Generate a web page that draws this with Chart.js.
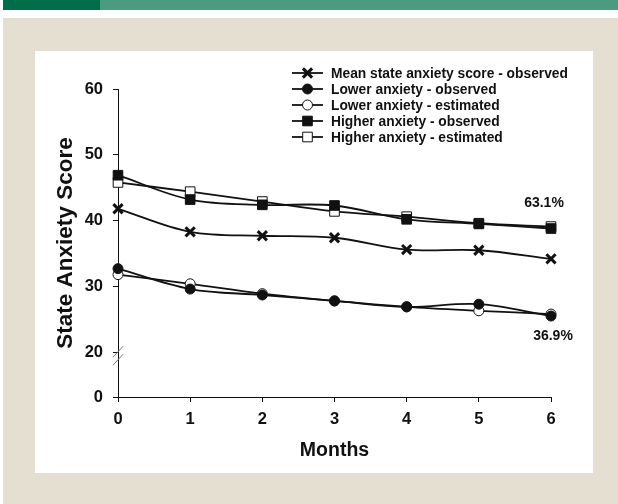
<!DOCTYPE html>
<html>
<head>
<meta charset="utf-8">
<title>State anxiety score over months</title>
<script src="https://cdn.jsdelivr.net/npm/chart.js@4.4.1/dist/chart.umd.min.js"></script>
<style>
  html, body { margin: 0; padding: 0; background: #fff; }
  body { width: 618px; height: 504px; position: relative; overflow: hidden; font-family: "Liberation Sans", Arial, sans-serif; }
  .bar-dark { position: absolute; left: 3px; top: 0; width: 97px; height: 10px; background: #006e48; }
  .bar-light { position: absolute; left: 100px; top: 0; width: 518px; height: 10px; background: #4b9b80; }
  .frame { position: absolute; left: 3px; top: 18px; width: 615px; height: 486px; background: #e5dfd2; }
  .panel { position: absolute; left: 35px; top: 51px; width: 558px; height: 422px; background: #fff; }
</style>
</head>
<body>
<div class="bar-dark"></div>
<div class="bar-light"></div>
<div class="frame"></div>
<div class="panel"><canvas id="anxietyChart" width="558" height="422"></canvas></div>

<script>
// ── Data ──
const months = ['0', '1', '2', '3', '4', '5', '6'];
const seriesNames = [
    'Mean state anxiety score - observed',
    'Lower anxiety - observed',
    'Lower anxiety - estimated',
    'Higher anxiety - observed',
    'Higher anxiety - estimated'
];
const meanObserved    = [41.8, 38.3, 37.7, 37.4, 35.6, 35.5, 34.2];
const lowerObserved   = [32.7, 29.6, 28.7, 27.8, 26.9, 27.3, 25.5];
const lowerEstimated  = [31.8, 30.4, 28.9, 27.8, 26.9, 26.3, 25.8];
const higherObserved  = [46.9, 43.2, 42.4, 42.3, 40.2, 39.5, 38.8];
const higherEstimated = [45.8, 44.4, 42.9, 41.4, 40.6, 39.6, 39.1];

// broken axis: the lowest tick stands for 0
const yTickValues = [13.2, 20, 30, 40, 50, 60];
const yTickLabels = ['0', '20', '30', '40', '50', '60'];
const endLabels = ['63.1%', '36.9%'];

const FONT = "'Liberation Sans', Arial, sans-serif";
const INK = '#111';

function series(label, data, style, radius, fill, extra) {
    return Object.assign({
        label,
        data,
        borderColor: INK,
        borderWidth: 1.8,
        tension: 0.35,
        pointStyle: style,
        pointRadius: radius,
        pointHoverRadius: radius,
        pointBackgroundColor: fill,
        pointBorderColor: INK,
        pointBorderWidth: 1,
        clip: false
    }, extra || {});
}

// ── Legend drawn as line + marker, top right ──
const legendPlugin = {
    id: 'lineLegend',
    afterDraw(chart) {
        const ctx = chart.ctx;
        ctx.save();
        chart.data.datasets.forEach((ds, i) => {
            const y = 22 + i * 16;
            ctx.strokeStyle = INK;
            ctx.lineWidth = 1.8;
            ctx.beginPath();
            ctx.moveTo(257, y);
            ctx.lineTo(288, y);
            ctx.stroke();
            ctx.fillStyle = ds.pointBackgroundColor;
            ctx.lineWidth = ds.pointBorderWidth;
            Chart.helpers.drawPoint(ctx, {
                pointStyle: ds.pointStyle, radius: ds.pointRadius,
                borderWidth: ds.pointBorderWidth, rotation: 0
            }, 272.5, y);
            ctx.fillStyle = INK;
            ctx.font = 'bold 13.8px ' + FONT;
            ctx.textAlign = 'left';
            ctx.textBaseline = 'middle';
            ctx.fillText(ds.label, 296, y + 1);
        });
        ctx.restore();
    }
};

// ── Axis break marks and end-of-line percentages ──
const extrasPlugin = {
    id: 'extras',
    afterDraw(chart) {
        const ctx = chart.ctx;
        const x = chart.chartArea.left;
        const y = chart.scales.y.getPixelForValue(20);
        ctx.save();
        ctx.strokeStyle = '#777';
        ctx.lineWidth = 1;
        [0, 8].forEach(dy => {
            ctx.beginPath();
            ctx.moveTo(x - 5, y + dy + 5);
            ctx.lineTo(x + 5, y + dy - 6);
            ctx.stroke();
        });

        ctx.fillStyle = INK;
        ctx.font = 'bold 14px ' + FONT;
        ctx.textAlign = 'center';
        ctx.textBaseline = 'middle';
        const hi = chart.getDatasetMeta(3).data[months.length - 1];
        const lo = chart.getDatasetMeta(1).data[months.length - 1];
        ctx.fillText(endLabels[0], hi.x - 7, hi.y - 25);
        ctx.fillText(endLabels[1], lo.x + 2, lo.y + 20);
        ctx.restore();
    }
};

new Chart(document.getElementById('anxietyChart'), {
    type: 'line',
    data: {
        labels: months,
        datasets: [
            series(seriesNames[0], meanObserved, 'crossRot', 6.5, INK, { pointBorderWidth: 3 }),
            series(seriesNames[1], lowerObserved, 'circle', 5, INK),
            series(seriesNames[2], lowerEstimated, 'circle', 5, '#fff'),
            series(seriesNames[3], higherObserved, 'rect', 6.8, INK),
            series(seriesNames[4], higherEstimated, 'rect', 6.8, '#fff')
        ]
    },
    options: {
        responsive: false,
        animation: false,
        events: [],
        layout: { padding: { top: 38, right: 42, left: 0, bottom: 0 } },
        plugins: {
            legend: { display: false },
            tooltip: { enabled: false }
        },
        scales: {
            x: {
                afterFit: s => { s.height = 76; },
                grid: { drawOnChartArea: false, drawTicks: true, tickLength: 5, color: INK },
                border: { display: true, color: INK, width: 1 },
                ticks: { color: INK, padding: 8, font: { family: FONT, size: 16.5, weight: 'bold' } },
                title: {
                    display: true, text: 'Months', color: INK,
                    padding: { top: 0, bottom: 11 },
                    font: { family: FONT, size: 19.5, weight: 'bold' }
                }
            },
            y: {
                min: yTickValues[0],
                max: yTickValues[yTickValues.length - 1],
                afterFit: s => { s.width = 83; },
                afterBuildTicks: s => { s.ticks = yTickValues.map(v => ({ value: v })); },
                grid: { drawOnChartArea: false, drawTicks: true, tickLength: 5, color: INK },
                border: { display: true, color: INK, width: 1 },
                ticks: {
                    color: INK, padding: 10,
                    font: { family: FONT, size: 16.5, weight: 'bold' },
                    callback: (value, index) => yTickLabels[index]
                },
                title: {
                    display: true, text: 'State Anxiety Score', color: INK,
                    padding: { top: 17, bottom: 0 },
                    font: { family: FONT, size: 22.5, weight: 'bold' }
                }
            }
        }
    },
    plugins: [legendPlugin, extrasPlugin]
});
</script>
</body>
</html>
